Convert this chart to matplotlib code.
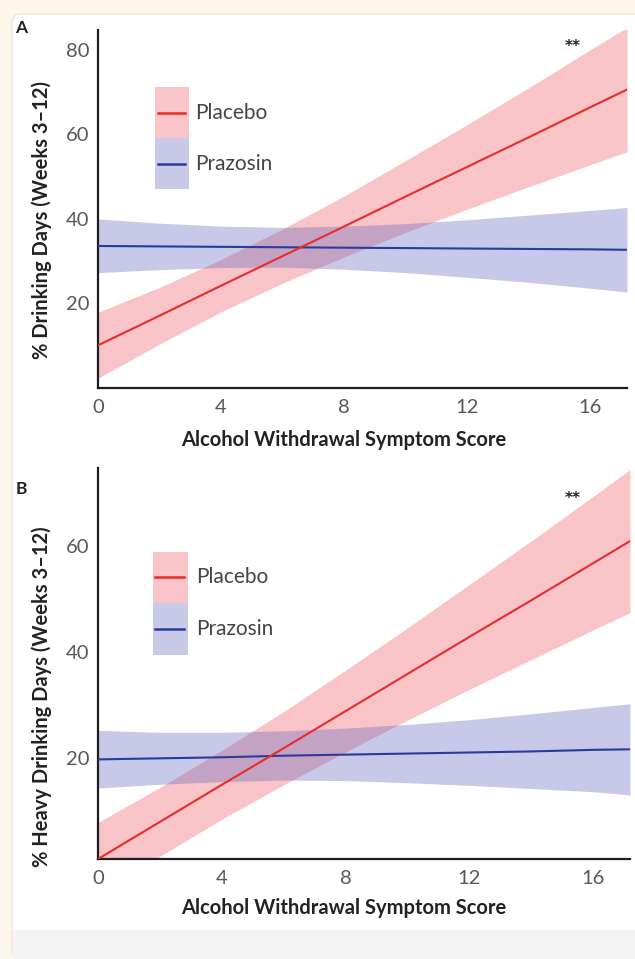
import matplotlib
matplotlib.use("Agg")
import matplotlib.pyplot as plt
from matplotlib.patches import Rectangle, FancyBboxPatch

# ---------------- data ----------------
x_pts = [0, 2, 4, 6, 8, 10, 12, 14, 16, 17.2]

# Panel A: % Drinking Days
a_placebo_fit = [10.1, 17.1, 24.2, 31.2, 38.2, 45.3, 52.3, 59.3, 66.4, 70.6]
a_placebo_hi = [17.9, 23.8, 30.4, 37.6, 45.4, 53.8, 62.3, 71.0, 80.0, 85.3]
a_placebo_lo = [2.3, 10.4, 18.0, 24.8, 31.0, 36.8, 42.3, 47.6, 52.8, 55.9]
a_prazosin_fit = [33.6, 33.5, 33.4, 33.3, 33.2, 33.1, 33.0, 32.9, 32.8, 32.7]
a_prazosin_hi = [40.0, 39.0, 38.3, 38.0, 38.3, 38.9, 39.8, 40.9, 42.0, 42.7]
a_prazosin_lo = [27.3, 28.0, 28.5, 28.6, 28.1, 27.3, 26.2, 25.0, 23.6, 22.7]

# Panel B: % Heavy Drinking Days
b_placebo_fit = [1.0, 8.0, 15.0, 21.9, 28.9, 35.9, 42.9, 49.8, 56.8, 61.0]
b_placebo_hi = [7.9, 14.5, 21.5, 28.8, 36.6, 44.6, 52.8, 61.0, 69.4, 74.5]
b_placebo_lo = [-5.9, 1.5, 8.5, 15.0, 21.2, 27.2, 33.0, 38.6, 44.2, 47.5]
b_prazosin_fit = [19.8, 20.0, 20.2, 20.5, 20.7, 20.9, 21.1, 21.3, 21.6, 21.7]
b_prazosin_hi = [25.3, 24.9, 24.9, 25.2, 25.7, 26.4, 27.3, 28.4, 29.6, 30.3]
b_prazosin_lo = [14.4, 15.1, 15.6, 15.9, 15.8, 15.4, 14.9, 14.3, 13.7, 13.1]

x_ticks = [0, 4, 8, 12, 16]
a_yticks = [20, 40, 60, 80]
b_yticks = [20, 40, 60]
series_names = ["Placebo", "Prazosin"]
xlabel = "Alcohol Withdrawal Symptom Score"
a_ylabel = "% Drinking Days (Weeks 3\u201312)"
b_ylabel = "% Heavy Drinking Days (Weeks 3\u201312)"

# ---------------- style ----------------
RED = "#e52d2a"
BLUE = "#2a3b99"
PINK_BASE = "#eb3c46"
PURP_BASE = "#6464be"
PINK_SOLID = "#f8c4c7"
PURP_SOLID = "#c9c9e8"
TICK_COL = "#585858"
TXT_COL = "#222222"
FONT = ["Lato", "DejaVu Sans"]

W, H = 635, 959
fig = plt.figure(figsize=(W / 100, H / 100), dpi=100)
fig.patch.set_facecolor("#fbf7ea")

# page card
card = FancyBboxPatch((12 / W, 0), 1.2, (H - 14) / H, boxstyle="round,pad=0,rounding_size=0.012",
                      transform=fig.transFigure, facecolor="white", edgecolor="#f1e6d4",
                      linewidth=1.0, zorder=-10)
fig.patches.append(card)
fig.patches.append(Rectangle((12.5 / W, 0), 1, (H - 930) / H, transform=fig.transFigure,
                             facecolor="#f4f4f4", edgecolor="none", zorder=-9))


def px_axes(left, right, top, bottom):
    return fig.add_axes([left / W, 1 - bottom / H, (right - left) / W, (bottom - top) / H])


def draw_panel(ax, ylim, yticks, plc_fit, plc_lo, plc_hi, prz_fit, prz_lo, prz_hi):
    ax.set_facecolor("none")
    ax.fill_between(x_pts, plc_lo, plc_hi, color=PINK_BASE, alpha=0.30, linewidth=0, zorder=1)
    ax.fill_between(x_pts, prz_lo, prz_hi, color=PURP_BASE, alpha=0.35, linewidth=0, zorder=2)
    ax.plot(x_pts, plc_fit, color=RED, lw=1.5, zorder=4)
    ax.plot(x_pts, prz_fit, color=BLUE, lw=1.5, zorder=3)
    ax.set_xlim(0, 17.2)
    ax.set_ylim(*ylim)
    ax.set_xticks(x_ticks)
    ax.set_yticks(yticks)
    for s in ["top", "right"]:
        ax.spines[s].set_visible(False)
    for s in ["left", "bottom"]:
        ax.spines[s].set_linewidth(1.6)
        ax.spines[s].set_color("#1e1e1e")
    ax.tick_params(axis="both", length=0, labelsize=14.5, labelcolor=TICK_COL)
    ax.tick_params(axis="y", pad=6)
    ax.tick_params(axis="x", pad=8)
    for lab in ax.get_xticklabels() + ax.get_yticklabels():
        lab.set_fontfamily(FONT)


def draw_legend(ax, x0, x1, y_pink_top, y_mid, y_purp_bot, lx0, lx1, tx):
    ax.add_patch(Rectangle((x0, y_mid), x1 - x0, y_pink_top - y_mid, transform=ax.transAxes,
                           facecolor=PINK_SOLID, edgecolor="none", zorder=5))
    ax.add_patch(Rectangle((x0, y_purp_bot), x1 - x0, y_mid - y_purp_bot, transform=ax.transAxes,
                           facecolor=PURP_SOLID, edgecolor="none", zorder=5))
    yc1 = (y_pink_top + y_mid) / 2
    yc2 = (y_mid + y_purp_bot) / 2
    ax.plot([lx0, lx1], [yc1, yc1], transform=ax.transAxes, color=RED, lw=1.8, zorder=6)
    ax.plot([lx0, lx1], [yc2, yc2], transform=ax.transAxes, color=BLUE, lw=1.8, zorder=6)
    ax.text(tx, yc1, series_names[0], transform=ax.transAxes, va="center", ha="left",
            fontsize=15, color="#444444", family=FONT)
    ax.text(tx, yc2, series_names[1], transform=ax.transAxes, va="center", ha="left",
            fontsize=15, color="#444444", family=FONT)


# ---------------- Panel A ----------------
axA = px_axes(98, 627, 30, 388)
draw_panel(axA, (0, 84.7), a_yticks, a_placebo_fit, a_placebo_lo, a_placebo_hi,
           a_prazosin_fit, a_prazosin_lo, a_prazosin_hi)
draw_legend(axA, 0.108, 0.172, 0.841, 0.698, 0.556, 0.113, 0.164, 0.183)

# ---------------- Panel B ----------------
axB = px_axes(98, 630, 468, 859)
draw_panel(axB, (1, 74.8), b_yticks, b_placebo_fit, b_placebo_lo, b_placebo_hi,
           b_prazosin_fit, b_prazosin_lo, b_prazosin_hi)
draw_legend(axB, 0.103, 0.169, 0.785, 0.655, 0.522, 0.108, 0.162, 0.184)

# ---------------- texts ----------------
def ftxt(xp, yp, s, **kw):
    fig.text(xp / W, 1 - yp / H, s, family=FONT, **kw)

ftxt(344, 440, xlabel, ha="center", va="center", fontsize=14.5, fontweight="bold", color=TXT_COL)
ftxt(344, 908, xlabel, ha="center", va="center", fontsize=14.5, fontweight="bold", color=TXT_COL)
ftxt(42, 220, a_ylabel, ha="center", va="center", rotation=90, fontsize=14.5, fontweight="bold", color=TXT_COL)
ftxt(42, 697, b_ylabel, ha="center", va="center", rotation=90, fontsize=14.5, fontweight="bold", color=TXT_COL)
ftxt(21, 28, "A", ha="center", va="center", fontsize=12.5, fontweight="bold", color=TXT_COL)
ftxt(21, 489, "B", ha="center", va="center", fontsize=12.5, fontweight="bold", color=TXT_COL)
fig.text(573 / W, 1 - 47 / H, "**", ha="center", va="center", fontsize=11, fontweight="bold",
         color=TXT_COL, family=["DejaVu Sans"])
fig.text(573 / W, 1 - 498 / H, "**", ha="center", va="center", fontsize=11, fontweight="bold",
         color=TXT_COL, family=["DejaVu Sans"])

fig.savefig("out.png", dpi=100, facecolor=fig.get_facecolor())
